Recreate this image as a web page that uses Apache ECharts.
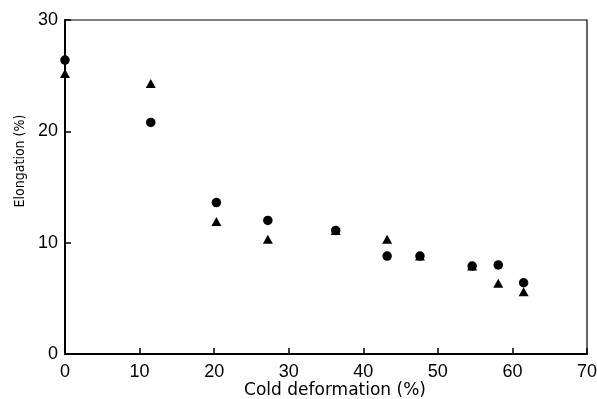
<!DOCTYPE html>
<html><head><meta charset="utf-8">
<script src="https://cdn.jsdelivr.net/npm/echarts@6/dist/echarts.min.js"></script>
<style>html,body{margin:0;padding:0;background:#fff}#c{width:597px;height:399px}</style>
</head><body><div id="c"></div>
<script>
const circleX = [0, 11.5, 20.3, 27.2, 36.3, 43.2, 47.6, 54.6, 58.1, 61.5];
const circleY = [26.4, 20.8, 13.6, 12.0, 11.1, 8.8, 8.8, 7.9, 8.0, 6.4];
const triX = [0, 11.5, 20.3, 27.2, 36.3, 43.2, 47.6, 54.6, 58.1, 61.5];
const triY = [25.2, 24.3, 11.9, 10.3, 11.1, 10.3, 8.8, 7.9, 6.35, 5.6];
const xTicks = [0, 10, 20, 30, 40, 50, 60, 70];
const yTicks = [0, 10, 20, 30];
const xTitle = 'Cold deformation (%)';
const yTitle = 'Elongation (%)';

const zip = (a, b) => a.map((v, i) => [v, b[i]]);
const font = 'Liberation Sans';
const chart = echarts.init(document.getElementById('c'));
chart.setOption({
  animation: false,
  grid: {left: 65, right: 10, top: 20, bottom: 45, show: true, borderColor: '#000', borderWidth: 1.2,
         outerBoundsMode: 'none', containLabel: false},
  graphic: [
    {type: 'text', x: 335, y: 391, style: {text: xTitle, x: 0, y: 0, align: 'center', verticalAlign: 'middle',
      font: '17px "DejaVu Sans"', fill: '#000'}},
    {type: 'text', x: 20, y: 161, rotation: Math.PI / 2, style: {text: yTitle, x: 0, y: 0, align: 'center', verticalAlign: 'middle',
      font: '14px "DejaVu Sans Condensed", "Liberation Sans", sans-serif', fill: '#000'}}
  ],
  xAxis: {
    type: 'value', min: 0, max: 70, interval: 10,
    axisLine: {lineStyle: {color: '#000', width: 2}},
    axisTick: {inside: true, length: 6, lineStyle: {color: '#000', width: 1.5}},
    axisLabel: {fontFamily: font, fontSize: 18, color: '#000', margin: 9,
                formatter: v => xTicks.includes(v) ? String(v) : ''},
    splitLine: {show: false}
  },
  yAxis: {
    type: 'value', min: 0, max: 30, interval: 10,
    axisLine: {lineStyle: {color: '#000', width: 2}},
    axisTick: {inside: true, length: 6, lineStyle: {color: '#000', width: 1.5}},
    axisLabel: {fontFamily: font, fontSize: 18, color: '#000', margin: 7,
                formatter: v => yTicks.includes(v) ? String(v) : ''},
    splitLine: {show: false}
  },
  series: [
    {type: 'scatter', data: zip(triX, triY), symbol: 'triangle', symbolSize: [10, 9],
     itemStyle: {color: '#000', opacity: 1}, z: 2},
    {type: 'scatter', data: zip(circleX, circleY), symbol: 'circle', symbolSize: 9.5,
     itemStyle: {color: '#000', opacity: 1}, z: 3}
  ]
});
</script></body></html>
